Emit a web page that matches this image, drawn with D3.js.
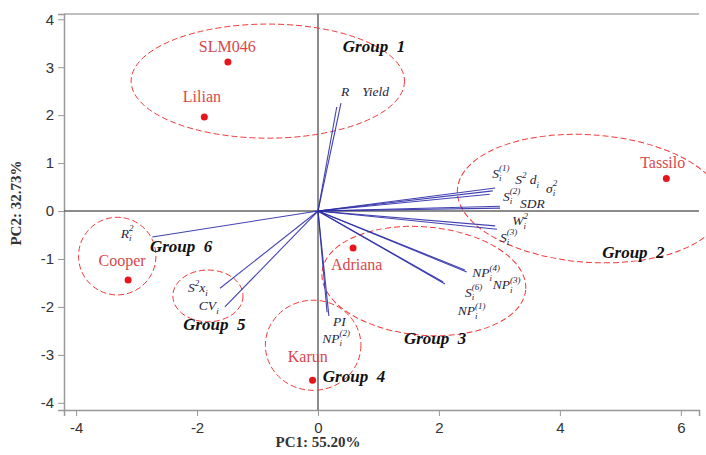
<!DOCTYPE html>
<html>
<head>
<meta charset="utf-8">
<script src="https://cdn.jsdelivr.net/npm/d3@7"></script>
<style>
  body { margin: 0; background: #fff; }
  svg { display: block; }
</style>
</head>
<body>
<svg id="biplot" width="706" height="455"></svg>
<script>
// Genotype scores (PC1, PC2)
const genotypes = ["SLM046", "Lilian", "Tassilo", "Adriana", "Cooper", "Karun"];
const genoPC1 = [-1.49, -1.88, 5.76, 0.58, -3.14, -0.09];
const genoPC2 = [3.11, 1.96, 0.68, -0.77, -1.44, -3.53];
// where each genotype name sits (data units, centre / baseline)
const genoLabelX = [-1.50, -1.92, 5.70, 0.64, -3.24, -0.17];
const genoLabelY = [3.32, 2.27, 0.90, -1.23, -1.15, -3.15];

// Stability parameter loadings (vector tips)
const params = ["R", "Yield", "S1", "S2d", "sigma2", "S2", "SDR", "W2", "S3",
                "NP4", "NP3", "S6", "NP1", "PI", "NP2", "R2", "S2x", "CV"];
const loadPC1 = [0.31, 0.38, 2.93, 2.89, 2.84, 3.01, 3.01, 2.93, 2.96,
                 2.43, 2.46, 2.10, 2.07, 0.15, 0.18, -2.74, -1.62, -1.54];
const loadPC2 = [2.17, 2.25, 0.48, 0.42, 0.35, 0.10, 0.06, -0.31, -0.38,
                 -1.23, -1.27, -1.52, -1.48, -2.11, -2.19, -0.54, -1.61, -2.00];

// Vector labels: pieces are [text, kind]  kind: "" normal, "sub", "sup", "stack" (sup above previous sub)
const paramLabels = [
  [["R", ""]],
  [["Yield", ""]],
  [["S", ""], ["i", "sub"], ["(1)", "stack"]],
  [["S", ""], ["2", "sup"], [" d", ""], ["i", "sub"]],
  [["σ", ""], ["i", "sub"], ["2", "stack"]],
  [["S", ""], ["i", "sub"], ["(2)", "stack"]],
  [["SDR", ""]],
  [["W", ""], ["i", "sub"], ["2", "stack"]],
  [["S", ""], ["i", "sub"], ["(3)", "stack"]],
  [["NP", ""], ["i", "sub"], ["(4)", "stack"]],
  [["NP", ""], ["i", "sub"], ["(3)", "stack"]],
  [["S", ""], ["i", "sub"], ["(6)", "stack"]],
  [["NP", ""], ["i", "sub"], ["(1)", "stack"]],
  [["PI", ""]],
  [["NP", ""], ["i", "sub"], ["(2)", "stack"]],
  [["R", ""], ["i", "sub"], ["2", "stack"]],
  [["S", ""], ["2", "sup"], ["x", ""], ["i", "sub"]],
  [["CV", ""], ["i", "sub"]]
];
const paramLabelX = [0.38, 0.73, 2.88, 3.26, 3.77, 3.06, 3.34, 3.21, 3.01,
                     2.55, 2.89, 2.43, 2.31, 0.25, 0.07, -3.26, -2.15, -1.97];
const paramLabelY = [2.40, 2.40, 0.69, 0.56, 0.38, 0.21, 0.06, -0.30, -0.64,
                     -1.38, -1.63, -1.79, -2.17, -2.39, -2.75, -0.56, -1.69, -2.07];

// Group ellipses (data units) and their labels
const groups = ["Group  1", "Group  2", "Group  3", "Group  4", "Group  5", "Group  6"];
const groupCX = [-0.83, 4.50, 1.75, -0.08, -1.82, -3.32];
const groupCY = [2.71, 0.26, -1.46, -2.80, -1.77, -0.94];
const groupRX = [2.26, 2.20, 1.69, 0.79, 0.58, 0.64];
const groupRY = [1.19, 1.33, 1.13, 0.94, 0.54, 0.81];
const groupTilt = [0, 4, 5, 0, 0, 0];
const groupLabelX = [0.41, 4.70, 1.42, 0.08, -2.23, -2.78];
const groupLabelY = [3.32, -0.98, -2.77, -3.57, -2.48, -0.86];

const xTicks = [-4, -2, 0, 2, 4, 6];
const yTicks = [-4, -3, -2, -1, 0, 1, 2, 3, 4];

const svg = d3.select("#biplot");
const margin = { top: 14, right: 7, bottom: 45, left: 64 };
const width = 706, height = 455;

const x = d3.scaleLinear().domain([-4.2, 6.3]).range([margin.left, width - margin.right]);
const y = d3.scaleLinear().domain([-4.15, 4.11]).range([height - margin.bottom, margin.top]);

const serif = "'Liberation Serif', 'Times New Roman', serif";
const sans = "'Liberation Sans', Arial, sans-serif";

// frame
svg.append("line")
    .attr("x1", x.range()[0]).attr("x2", x.range()[1])
    .attr("y1", y.range()[1]).attr("y2", y.range()[1])
    .attr("stroke", "#aaa").attr("stroke-width", 1.5);

const xAxis = svg.append("g")
    .attr("transform", `translate(0,${y.range()[0]})`)
    .call(d3.axisBottom(x).tickValues(xTicks).tickSize(6).tickPadding(6).tickFormat(d => String(d)));
const yAxis = svg.append("g")
    .attr("transform", `translate(${x.range()[0]},0)`)
    .call(d3.axisLeft(y).tickValues(yTicks).tickSize(6).tickPadding(4).tickFormat(d => String(d)));

[xAxis, yAxis].forEach(a => {
    a.select(".domain").attr("stroke", "#999").attr("stroke-width", 1.5);
    a.selectAll(".tick line").attr("stroke", "#999");
    a.selectAll(".tick text").attr("font-family", sans).attr("font-size", 15).attr("fill", "#333");
});

// zero lines
svg.append("line")
    .attr("x1", x.range()[0]).attr("x2", x.range()[1])
    .attr("y1", y(0)).attr("y2", y(0))
    .attr("stroke", "#666").attr("stroke-width", 1.5);
svg.append("line")
    .attr("x1", x(0)).attr("x2", x(0))
    .attr("y1", y.range()[0]).attr("y2", y.range()[1])
    .attr("stroke", "#666").attr("stroke-width", 1.5);

// axis titles
svg.append("text")
    .attr("x", x(0)).attr("y", 447)
    .attr("text-anchor", "middle")
    .attr("font-family", serif).attr("font-weight", "bold").attr("font-size", 15)
    .attr("fill", "#333")
    .text("PC1: 55.20%");
svg.append("text")
    .attr("transform", `translate(21,${y(0) - 8}) rotate(-90)`)
    .attr("text-anchor", "middle")
    .attr("font-family", serif).attr("font-weight", "bold").attr("font-size", 15)
    .attr("fill", "#333")
    .text("PC2: 32.73%");

// group ellipses
svg.append("g").selectAll("ellipse")
    .data(groups)
    .join("ellipse")
    .attr("cx", (d, i) => x(groupCX[i]))
    .attr("cy", (d, i) => y(groupCY[i]))
    .attr("rx", (d, i) => x(groupCX[i] + groupRX[i]) - x(groupCX[i]))
    .attr("ry", (d, i) => y(groupCY[i]) - y(groupCY[i] + groupRY[i]))
    .attr("transform", (d, i) => `rotate(${groupTilt[i]},${x(groupCX[i])},${y(groupCY[i])})`)
    .attr("fill", "none")
    .attr("stroke", "#f03a3a")
    .attr("stroke-width", 1)
    .attr("stroke-dasharray", "6,3");

// loading vectors
svg.append("g").selectAll("line")
    .data(params)
    .join("line")
    .attr("x1", x(0)).attr("y1", y(0))
    .attr("x2", (d, i) => x(loadPC1[i]))
    .attr("y2", (d, i) => y(loadPC2[i]))
    .attr("stroke", "#2e2ea8")
    .attr("stroke-width", 1.1)
    .attr("stroke-opacity", 0.9);

// vector labels
const lab = svg.append("g")
    .attr("font-family", serif).attr("font-style", "italic")
    .attr("font-size", 13.5).attr("fill", "#1f2440");

paramLabels.forEach((parts, i) => {
    const t = lab.append("text")
        .attr("x", x(paramLabelX[i]))
        .attr("y", y(paramLabelY[i]));
    let shift = 0, lastLen = 0;
    parts.forEach(([txt, kind]) => {
        let target = 0, size = null, dx = 0;
        if (kind === "sub") { target = 3.5; size = 9; }
        if (kind === "sup") { target = -6; size = 9; }
        if (kind === "stack") { target = -6.5; size = 9; dx = -lastLen; }
        const sp = t.append("tspan")
            .attr("dy", target - shift)
            .text(txt);
        if (dx) sp.attr("dx", dx);
        if (size) sp.attr("font-size", size);
        shift = target;
        lastLen = sp.node().getComputedTextLength();
    });
});

// genotypes
svg.append("g").selectAll("circle")
    .data(genotypes)
    .join("circle")
    .attr("cx", (d, i) => x(genoPC1[i]))
    .attr("cy", (d, i) => y(genoPC2[i]))
    .attr("r", 3.5)
    .attr("fill", "#e8141c");

svg.append("g").selectAll("text")
    .data(genotypes)
    .join("text")
    .attr("x", (d, i) => x(genoLabelX[i]))
    .attr("y", (d, i) => y(genoLabelY[i]))
    .attr("text-anchor", "middle")
    .attr("font-family", serif).attr("font-size", 16)
    .attr("fill", "#d8474c")
    .text(d => d);

// group labels
svg.append("g").selectAll("text")
    .data(groups)
    .join("text")
    .attr("x", (d, i) => x(groupLabelX[i]))
    .attr("y", (d, i) => y(groupLabelY[i]))
    .attr("font-family", serif).attr("font-style", "italic").attr("font-weight", "bold")
    .attr("font-size", 17).attr("fill", "#111")
    .style("white-space", "pre")
    .text(d => d);
</script>
</body>
</html>
